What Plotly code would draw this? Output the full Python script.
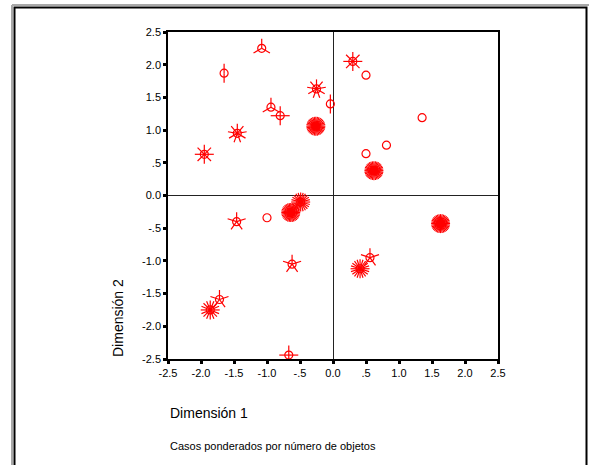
import math
import plotly.graph_objects as go

# ---- data (object points, weighted by number of cases) ----
dim1 = [-1.08, -1.65, -0.94, -0.80, -0.25, -0.04, -0.26, -1.45, -1.95, 0.30,
        0.50, 1.35, 0.81, 0.50, 0.62, -0.49, -0.64, -1.46, -1.00, -0.62,
        -1.72, -1.86, -0.67, 1.63, 0.56, 0.41]
dim2 = [2.25, 1.87, 1.35, 1.22, 1.63, 1.40, 1.06, 0.95, 0.63, 2.05,
        1.84, 1.19, 0.77, 0.64, 0.38, -0.10, -0.26, -0.40, -0.34, -1.05,
        -1.59, -1.75, -2.44, -0.43, -0.95, -1.12]
weights = [3, 2, 3, 4, 9, 2, 36, 9, 8, 8,
           1, 1, 1, 1, 36, 24, 36, 5, 1, 5,
           5, 16, 4, 36, 5, 20]

tick_vals = [-2.5, -2.0, -1.5, -1.0, -0.5, 0.0, 0.5, 1.0, 1.5, 2.0, 2.5]
tick_text = ["-2.5", "-2.0", "-1.5", "-1.0", "-.5", "0.0", ".5", "1.0", "1.5", "2.0", "2.5"]
axis_range = [-2.5, 2.5]

x_title = "Dimensión 1"
y_title = "Dimensión 2"
note = "Casos ponderados por número de objetos"

# ---- layout geometry ----
W, H = 589, 465
ml, mr, mt, mb = 168, 91, 32, 106
pw, ph = W - ml - mr, H - mt - mb
ppx = pw / (axis_range[1] - axis_range[0])
ppy = ph / (axis_range[1] - axis_range[0])
PETAL = 9.5  # petal length in px
RED = "#ff0000"

# sunflower petals
px, py = [], []
for x, y, w in zip(dim1, dim2, weights):
    if w < 2:
        continue
    for k in range(w):
        a = math.pi / 2 + 2 * math.pi * k / w
        px += [x, x + PETAL * math.cos(a) / ppx, None]
        py += [y, y + PETAL * math.sin(a) / ppy, None]

fig = go.Figure()
fig.add_trace(go.Scatter(x=px, y=py, mode="lines",
                         line=dict(color=RED, width=1.2),
                         hoverinfo="skip", showlegend=False))
fig.add_trace(go.Scatter(x=dim1, y=dim2, mode="markers",
                         marker=dict(symbol="circle-open", size=8,
                                     color=RED, line=dict(color=RED, width=1.2)),
                         showlegend=False, cliponaxis=False))

axis_common = dict(range=axis_range, tickmode="array", tickvals=tick_vals,
                   ticktext=tick_text, showgrid=False, zeroline=True,
                   zerolinecolor="#222222", zerolinewidth=1.2,
                   showline=True, linecolor="black", linewidth=1.5, mirror=True,
                   ticks="outside", ticklen=3, tickwidth=3, tickcolor="black",
                   tickfont=dict(family="Arial, Liberation Sans", size=11, color="black"))

fig.update_layout(
    width=W, height=H,
    margin=dict(l=ml, r=mr, t=mt, b=mb, pad=0),
    paper_bgcolor="white", plot_bgcolor="white",
    xaxis=dict(**axis_common),
    yaxis=dict(**axis_common),
    font=dict(family="Arial, Liberation Sans", color="black"),
)

def xp(pix):
    return (pix - ml) / pw

def yp(pix):
    return (H - mb - pix) / ph

fig.add_annotation(text=x_title, xref="paper", yref="paper", x=0, y=yp(413),
                   xanchor="left", yanchor="middle", showarrow=False,
                   font=dict(size=14, family="Arial, Liberation Sans"))
fig.add_annotation(text=note, xref="paper", yref="paper", x=0, y=yp(446),
                   xanchor="left", yanchor="middle", showarrow=False,
                   font=dict(size=11, family="Arial, Liberation Sans"))
fig.add_annotation(text=y_title, xref="paper", yref="paper", x=xp(118), y=0,
                   xanchor="center", yanchor="bottom", textangle=-90, showarrow=False,
                   font=dict(size=14, family="Arial, Liberation Sans"))

# outer frame (gray shadow + black border)
fig.add_shape(type="line", xref="paper", yref="paper", x0=xp(12), x1=xp(589),
              y0=yp(5), y1=yp(5), line=dict(color="#a8a8a8", width=2))
fig.add_shape(type="line", xref="paper", yref="paper", x0=xp(12), x1=xp(12),
              y0=yp(5), y1=yp(470), line=dict(color="#a8a8a8", width=2))
fig.add_shape(type="rect", xref="paper", yref="paper", x0=xp(14.5), x1=xp(586.5),
              y0=yp(7.5), y1=yp(480), line=dict(color="black", width=2))

fig.write_html("out.html", config={"displayModeBar": False},
               post_script="document.body.style.margin='0';document.body.style.overflow='hidden';")
